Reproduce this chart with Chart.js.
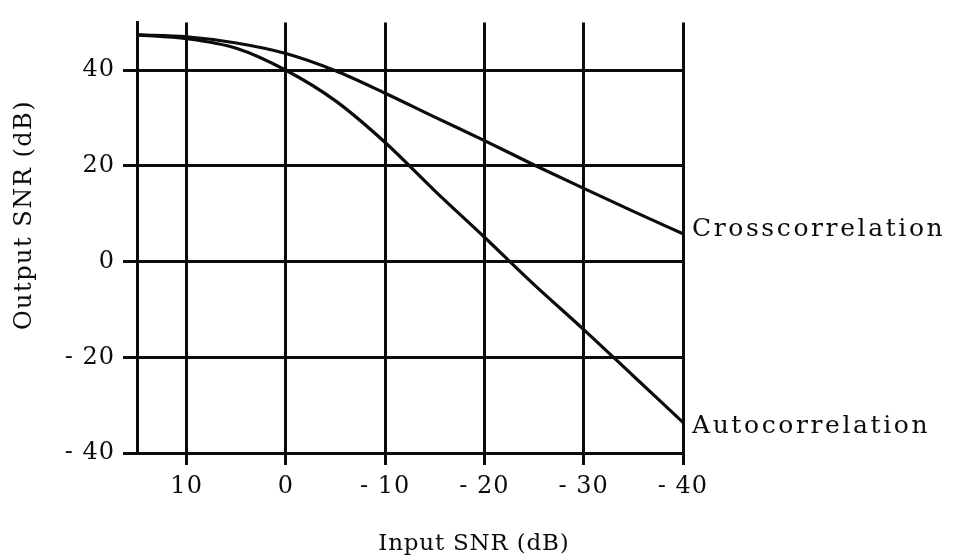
<!DOCTYPE html>
<html>
<head>
<meta charset="utf-8">
<script src="https://cdn.jsdelivr.net/npm/chart.js@4.4.1/dist/chart.umd.min.js"></script>
<style>
  html, body { margin: 0; padding: 0; background: #fff; }
  #wrap { width: 972px; height: 557px; }
</style>
</head>
<body>
<div id="wrap"><canvas id="c" width="972" height="557"></canvas></div>
<script>
// Input SNR (dB) sample points and output SNR (dB) for each detector
const inputSnr = [15, 10, 5, 0, -5, -10, -15, -20, -25, -30, -35, -40];
const crossSnr = [47.4, 47.0, 45.7, 43.5, 39.9, 35.2, 30.2, 25.3, 20.2, 15.3, 10.5, 5.8];
const autoSnr  = [47.4, 46.6, 44.6, 40.0, 33.6, 24.9, 14.8, 5.1, -4.8, -14.2, -23.9, -33.6];
const seriesNames = ['Crosscorrelation', 'Autocorrelation'];
const xTicks = [10, 0, -10, -20, -30, -40];
const yTicks = [40, 20, 0, -20, -40];
const xTitle = 'Input SNR (dB)';
const yTitle = 'Output SNR (dB)';

const INK = '#0c0c0c';
const FONT = '"DejaVu Serif", "Liberation Serif", serif';

const fmt = v => (v < 0 ? '- ' + Math.abs(v) : String(v));
const toPoints = ys => inputSnr.map((x, i) => ({ x, y: ys[i] }));

// Typewriter-like spacing for the tick labels
const spacing = {
  id: 'spacing',
  beforeDraw(chart) { chart.ctx.letterSpacing = '1px'; }
};

// Curve names at the line ends and the two axis titles
const annotate = {
  id: 'annotate',
  afterDraw(chart) {
    const { ctx, scales: { x, y }, chartArea: a } = chart;
    const last = inputSnr.length - 1;
    ctx.save();
    ctx.fillStyle = INK;
    ctx.font = '25px ' + FONT;
    ctx.letterSpacing = '2.6px';
    ctx.textAlign = 'left';
    ctx.textBaseline = 'alphabetic';
    const lx = x.getPixelForValue(inputSnr[last]) + 9;
    ctx.fillText(seriesNames[0], lx, y.getPixelForValue(crossSnr[last]) + 2);
    ctx.fillText(seriesNames[1], lx, y.getPixelForValue(autoSnr[last]) + 11);

    ctx.textAlign = 'center';
    ctx.textBaseline = 'middle';
    ctx.font = '23px ' + FONT;
    ctx.letterSpacing = '0.8px';
    ctx.fillText(xTitle, a.left + (a.right - a.left) * 0.617, 544);

    ctx.font = '24px ' + FONT;
    ctx.letterSpacing = '1.5px';
    ctx.translate(25, 215);
    ctx.rotate(-Math.PI / 2);
    ctx.fillText(yTitle, 0, 0);
    ctx.restore();
  }
};

new Chart(document.getElementById('c'), {
  type: 'line',
  data: {
    datasets: [
      { label: seriesNames[0], data: toPoints(crossSnr) },
      { label: seriesNames[1], data: toPoints(autoSnr) }
    ]
  },
  options: {
    responsive: false,
    animation: false,
    events: [],
    layout: { padding: { top: 16, right: 289, left: 0, bottom: 0 } },
    elements: {
      line: { borderColor: INK, borderWidth: 3.2, cubicInterpolationMode: 'monotone', fill: false },
      point: { radius: 0 }
    },
    plugins: {
      legend: { display: false },
      tooltip: { enabled: false }
    },
    scales: {
      x: {
        type: 'linear',
        position: 'bottom',
        reverse: true,
        min: -40,
        max: 15,
        afterBuildTicks: s => { s.ticks = xTicks.map(value => ({ value })); },
        afterFit: s => { s.height = 104; },
        grid: { color: INK, lineWidth: 3, tickLength: 12, drawTicks: true },
        border: { display: true, color: INK, width: 3 },
        ticks: {
          color: INK,
          font: { family: FONT, size: 24 },
          padding: 7,
          maxRotation: 0,
          autoSkip: false,
          callback: v => fmt(v)
        },
        title: { display: false }
      },
      y: {
        type: 'linear',
        min: -40,
        max: 50,
        afterBuildTicks: s => { s.ticks = yTicks.map(value => ({ value })); },
        afterFit: s => { s.width = 137; },
        grid: { color: INK, lineWidth: 3, tickLength: 14, drawTicks: true },
        border: { display: true, color: INK, width: 3 },
        ticks: {
          color: INK,
          font: { family: FONT, size: 24 },
          padding: 8,
          autoSkip: false,
          callback: v => fmt(v)
        },
        title: { display: false }
      }
    }
  },
  plugins: [spacing, annotate]
});
</script>
</body>
</html>
